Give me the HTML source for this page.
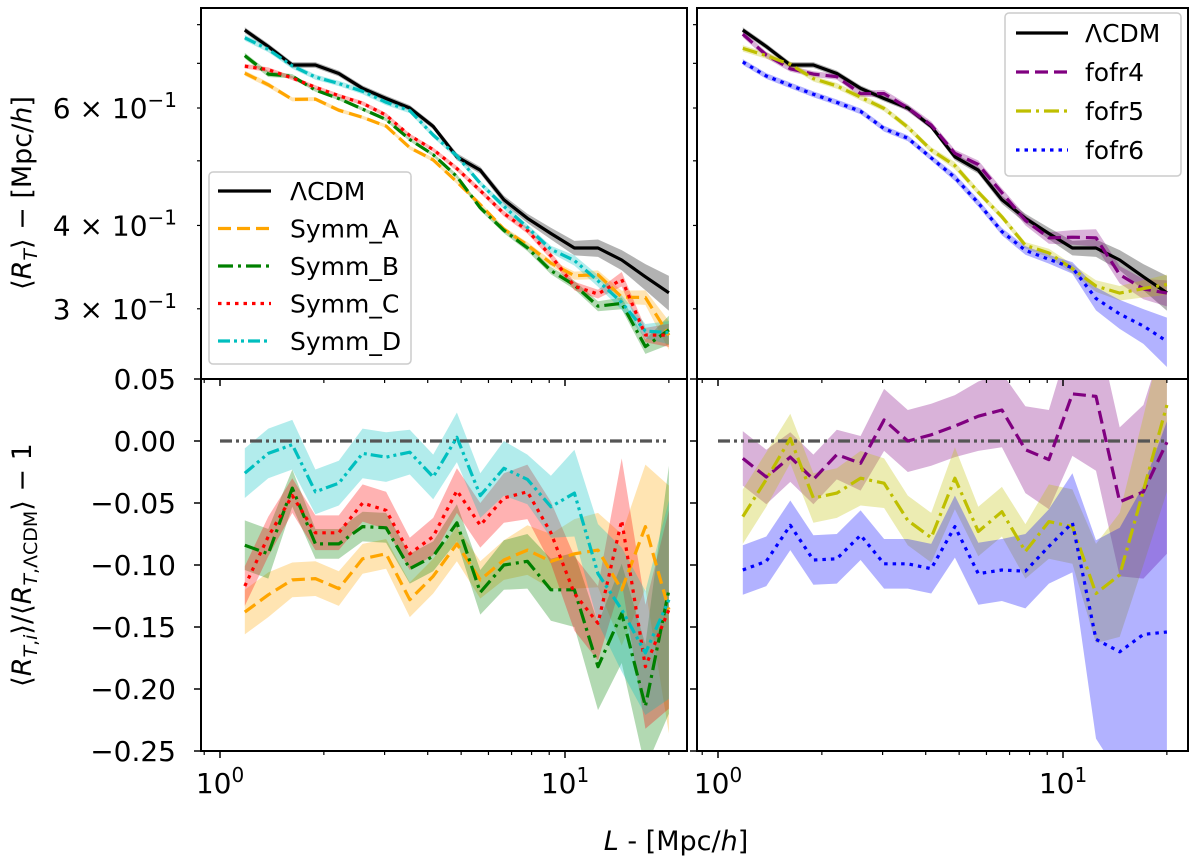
<!DOCTYPE html>
<html><head><meta charset="utf-8">
<style>
html,body{margin:0;padding:0;background:#fff;}
svg{display:block;font-family:"DejaVu Sans","Liberation Sans",sans-serif;}
</style></head>
<body>
<svg id="chart" width="1200" height="865" viewBox="0 0 1200 865" xmlns="http://www.w3.org/2000/svg"></svg>
<script>
// ---- data ----
const Lvals = [1.18,1.38,1.62,1.89,2.21,2.59,3.03,3.55,4.15,4.86,5.68,6.65,7.78,9.1,10.65,12.46,14.6,17.1,20.0];
const lcdm = [0.785,0.742,0.696,0.696,0.676,0.642,0.620,0.600,0.563,0.507,0.484,0.437,0.410,0.389,0.370,0.370,0.355,0.335,0.317];
const lcdmErr = [0.01,0.01,0.01,0.01,0.01,0.01,0.01,0.01,0.01,0.012,0.012,0.014,0.016,0.02,0.025,0.03,0.035,0.045,0.06];
const symmA = [-0.138,-0.124,-0.112,-0.111,-0.119,-0.095,-0.091,-0.128,-0.109,-0.083,-0.112,-0.096,-0.088,-0.097,-0.091,-0.088,-0.120,-0.069,-0.136];
const symmB = [-0.084,-0.091,-0.038,-0.083,-0.083,-0.069,-0.070,-0.103,-0.093,-0.066,-0.122,-0.100,-0.097,-0.120,-0.120,-0.182,-0.139,-0.214,-0.120];
const symmC = [-0.117,-0.077,-0.044,-0.074,-0.074,-0.050,-0.056,-0.091,-0.077,-0.040,-0.068,-0.046,-0.041,-0.074,-0.123,-0.147,-0.064,-0.182,-0.136];
const symmD = [-0.026,-0.010,-0.003,-0.041,-0.034,-0.010,-0.013,-0.009,-0.029,0.003,-0.044,-0.022,-0.031,-0.053,-0.042,-0.107,-0.136,-0.171,-0.128];
const errA = [0.018,0.018,0.014,0.014,0.014,0.012,0.012,0.014,0.014,0.014,0.015,0.016,0.02,0.022,0.028,0.03,0.045,0.05,0.1];
const errB = [0.02,0.02,0.015,0.012,0.012,0.012,0.012,0.012,0.012,0.015,0.018,0.02,0.022,0.025,0.03,0.035,0.04,0.05,0.1];
const errC = [0.016,0.016,0.014,0.014,0.014,0.015,0.015,0.013,0.015,0.018,0.018,0.02,0.022,0.025,0.03,0.03,0.05,0.05,0.08];
const errD = [0.02,0.02,0.02,0.018,0.018,0.02,0.02,0.018,0.018,0.02,0.018,0.022,0.02,0.025,0.035,0.04,0.05,0.05,0.08];
const fofr4 = [-0.014,-0.029,-0.013,-0.031,-0.011,-0.018,0.017,0.000,0.005,0.012,0.020,0.025,-0.007,-0.015,0.038,0.036,-0.049,-0.041,-0.001];
const fofr5 = [-0.061,-0.031,0.002,-0.046,-0.042,-0.030,-0.034,-0.064,-0.078,-0.030,-0.073,-0.057,-0.089,-0.065,-0.069,-0.123,-0.108,-0.040,0.029];
const fofr6 = [-0.104,-0.097,-0.068,-0.096,-0.095,-0.076,-0.099,-0.099,-0.103,-0.069,-0.107,-0.104,-0.105,-0.085,-0.066,-0.160,-0.170,-0.156,-0.154];
const err4 = [0.022,0.022,0.02,0.02,0.02,0.022,0.025,0.025,0.025,0.025,0.028,0.03,0.035,0.04,0.05,0.06,0.06,0.07,0.09];
const err5 = [0.022,0.022,0.02,0.02,0.02,0.022,0.02,0.02,0.02,0.025,0.02,0.02,0.022,0.03,0.03,0.04,0.05,0.06,0.07];
const err6 = [0.02,0.02,0.02,0.02,0.02,0.02,0.02,0.02,0.02,0.025,0.025,0.025,0.03,0.03,0.04,0.08,0.1,0.12,0.17];
const topTickVals = [0.3,0.4,0.6];
const topTickLabels = ["3 × 10","4 × 10","6 × 10"];
const botTickVals = [0.05,0.00,-0.05,-0.10,-0.15,-0.20,-0.25];
const botTickLabels = ["0.05","0.00","−0.05","−0.10","−0.15","−0.20","−0.25"];

// ---- layout ----
const NS="http://www.w3.org/2000/svg";
const svg=document.getElementById('chart');
const panels={
  tl:{x0:201,x1:687,y0:8,y1:379,dec0:220},
  tr:{x0:697,x1:1188,y0:8,y1:379,dec0:718},
  bl:{x0:201,x1:687,y0:379,y1:751,dec0:220},
  br:{x0:697,x1:1188,y0:379,y1:751,dec0:718}
};
const DEC=345;
function xs(p,v){return p.dec0+Math.log10(v)*DEC;}
function ysTop(v){return 108-(Math.log10(v)-Math.log10(0.6))*667;}
function ysBot(v){return 441-v*1240;}
function mk(tag,attrs,parent){const e=document.createElementNS(NS,tag);for(const k in attrs)e.setAttribute(k,attrs[k]);(parent||svg).appendChild(e);return e;}

function clip(id,p){const d=mk('clipPath',{id:id});mk('rect',{x:p.x0,y:p.y0,width:p.x1-p.x0,height:p.y1-p.y0},d);}
['tl','tr','bl','br'].forEach(k=>clip('c'+k,panels[k]));

function band(p,ys,lo,hi,color,name,g){
  let d='';
  for(let i=0;i<Lvals.length;i++)d+=(i?'L':'M')+xs(p,Lvals[i]).toFixed(1)+','+ys(hi[i]).toFixed(1);
  for(let i=Lvals.length-1;i>=0;i--)d+='L'+xs(p,Lvals[i]).toFixed(1)+','+ys(lo[i]).toFixed(1);
  const e=mk('path',{d:d+'Z',fill:color,'fill-opacity':0.3,stroke:'none'},g);
  
  
}
function line(p,ys,vals,color,dash,name,g){
  let d='';
  for(let i=0;i<Lvals.length;i++)d+=(i?'L':'M')+xs(p,Lvals[i]).toFixed(1)+','+ys(vals[i]).toFixed(1);
  const e=mk('path',{d:d,fill:'none',stroke:color,'stroke-width':3.2,'stroke-dasharray':dash||'none','stroke-linejoin':'round'},g);
  
  
}
const DASH={solid:'',dashed:'13,6',dashdot:'15,5,3,5',dotted:'3.5,5',dashdotdot:'12,4,3,4,3,4'};
const series={
  symmA:{v:symmA,e:errA,c:'#FFA500',d:DASH.dashed,n:'symm-a'},
  symmB:{v:symmB,e:errB,c:'#008000',d:DASH.dashdot,n:'symm-b'},
  symmC:{v:symmC,e:errC,c:'#FF0000',d:DASH.dotted,n:'symm-c'},
  symmD:{v:symmD,e:errD,c:'#00BFBF',d:DASH.dashdotdot,n:'symm-d'},
  fofr4:{v:fofr4,e:err4,c:'#800080',d:DASH.dashed,n:'fofr4'},
  fofr5:{v:fofr5,e:err5,c:'#BFBF00',d:DASH.dashdot,n:'fofr5'},
  fofr6:{v:fofr6,e:err6,c:'#0000FF',d:DASH.dotted,n:'fofr6'}
};
function drawTop(pk,list){
  const p=panels[pk];const g=mk('g',{'clip-path':'url(#c'+pk+')'});
  
  
  band(p,ysTop,lcdm.map((v,i)=>v*(1-lcdmErr[i])),lcdm.map((v,i)=>v*(1+lcdmErr[i])),'#000','lcdm',g);
  list.forEach(k=>{const s=series[k];
    const val=lcdm.map((v,i)=>v*(1+s.v[i]));
    band(p,ysTop,val.map((v,i)=>v*(1-s.e[i]*0.5)),val.map((v,i)=>v*(1+s.e[i]*0.5)),s.c,s.n,g);});
  line(p,ysTop,lcdm,'#000','','lcdm',g);
  list.forEach(k=>{const s=series[k];line(p,ysTop,lcdm.map((v,i)=>v*(1+s.v[i])),s.c,s.d,s.n,g);});
}
function drawBot(pk,list){
  const p=panels[pk];const g=mk('g',{'clip-path':'url(#c'+pk+')'});
  
  
  list.forEach(k=>{const s=series[k];band(p,ysBot,s.v.map((v,i)=>v-s.e[i]),s.v.map((v,i)=>v+s.e[i]),s.c,s.n,g);});
  const z=mk('line',{x1:xs(p,1.0),x2:xs(p,20),y1:ysBot(0),y2:ysBot(0),stroke:'#555','stroke-width':3.2,'stroke-dasharray':DASH.dashdotdot},g);
  
  
  list.forEach(k=>{const s=series[k];line(p,ysBot,s.v,s.c,s.d,s.n,g);});
}
drawTop('tl',['symmA','symmB','symmC','symmD']);
drawTop('tr',['fofr4','fofr5','fofr6']);
drawBot('bl',['symmA','symmB','symmC','symmD']);
drawBot('br',['fofr4','fofr5','fofr6']);

// frames & ticks
const minorX=[2,3,4,5,6,7,8,9,20];
for(const k in panels){const p=panels[k];
  const f=mk('rect',{x:p.x0,y:p.y0,width:p.x1-p.x0,height:p.y1-p.y0,fill:'none',stroke:'#000','stroke-width':2});
  
  
  [1,10].forEach(v=>mk('line',{x1:xs(p,v),x2:xs(p,v),y1:p.y1,y2:p.y1+7,stroke:'#000','stroke-width':1.5}));
  minorX.forEach(v=>mk('line',{x1:xs(p,v),x2:xs(p,v),y1:p.y1,y2:p.y1+4,stroke:'#000','stroke-width':1.2}));
  mk('line',{x1:xs(p,0.9),x2:xs(p,0.9),y1:p.y1,y2:p.y1+4,stroke:'#000','stroke-width':1.2});
  if(k[0]==='t'){[0.3,0.4,0.5,0.6,0.7,0.8].forEach(v=>mk('line',{x1:p.x0-4,x2:p.x0,y1:ysTop(v),y2:ysTop(v),stroke:'#000','stroke-width':1.2}));}
  else{botTickVals.forEach(v=>mk('line',{x1:p.x0-7,x2:p.x0,y1:ysBot(v),y2:ysBot(v),stroke:'#000','stroke-width':1.5}));}
}
// tick labels
function txt(x,y,s,attrs,name){const e=mk('text',Object.assign({x:x,y:y,'font-size':28,fill:'#000'},attrs||{}));e.textContent=s;
  
  return e;}
topTickVals.forEach((v,i)=>{const t=txt(177,ysTop(v)+10,topTickLabels[i],{'text-anchor':'end'},'y-tick-label-top');
  const sup=mk('tspan',{dy:-11,'font-size':20},t);sup.textContent='−1';});
botTickVals.forEach((v,i)=>txt(176,ysBot(v)+10,botTickLabels[i],{'text-anchor':'end'},'y-tick-label-bottom'));
['bl','br'].forEach(k=>{const p=panels[k];
  [1,10].forEach((v,j)=>{const t=txt(xs(p,v),793,'10',{'text-anchor':'middle'},'x-tick-label');
    const s=mk('tspan',{dy:-11,'font-size':20},t);s.textContent=j?'1':'0';});});
// axis labels
const xl=txt(676,850,'',{'text-anchor':'middle','font-size':27},'x-axis-title');
xl.innerHTML='<tspan font-style="italic">L</tspan> - [Mpc/<tspan font-style="italic">h</tspan>]';
const yl1=txt(0,0,'',{'text-anchor':'middle','font-size':27,transform:'translate(31,193) rotate(-90)'},'y-axis-title-top');
yl1.innerHTML='⟨<tspan font-style="italic">R</tspan><tspan font-style="italic" font-size="19" dy="6">T</tspan><tspan dy="-6">⟩ − [Mpc/</tspan><tspan font-style="italic">h</tspan>]';
const yl2=txt(0,0,'',{'text-anchor':'middle','font-size':27,transform:'translate(31,565) rotate(-90)'},'y-axis-title-bottom');
yl2.innerHTML='⟨<tspan font-style="italic">R</tspan><tspan font-size="19" dy="6"><tspan font-style="italic">T</tspan>,<tspan font-style="italic">i</tspan></tspan><tspan dy="-6">⟩/⟨</tspan><tspan font-style="italic">R</tspan><tspan font-size="19" dy="6"><tspan font-style="italic">T</tspan>,ΛCDM</tspan><tspan dy="-6">⟩ − 1</tspan>';

// legends
function legend(x,y,w,h,items,name,lx0,lx1,tx,y0,dy){
  const g=mk('g',{});
  
  
  mk('rect',{x:x,y:y,width:w,height:h,rx:4,fill:'#fff','fill-opacity':0.85,stroke:'#ccc','stroke-width':1.5},g);
  items.forEach((it,i)=>{const yy=y0+i*dy;
    const l=mk('line',{x1:lx0,x2:lx1,y1:yy,y2:yy,stroke:it.c,'stroke-width':3.2,'stroke-dasharray':it.d||'none'},g);
    
    
    const t=mk('text',{x:tx,y:yy+9,'font-size':25,fill:'#000'},g);t.textContent=it.t;
    
    
  });
}
legend(209,172,202,192,[{t:'ΛCDM',c:'#000'},{t:'Symm_A',c:'#FFA500',d:DASH.dashed},{t:'Symm_B',c:'#008000',d:DASH.dashdot},{t:'Symm_C',c:'#FF0000',d:DASH.dotted},{t:'Symm_D',c:'#00BFBF',d:DASH.dashdotdot}],'legend-symmetron',218,271,290,191,37.5);
legend(1005,13,176,163,[{t:'ΛCDM',c:'#000'},{t:'fofr4',c:'#800080',d:DASH.dashed},{t:'fofr5',c:'#BFBF00',d:DASH.dashdot},{t:'fofr6',c:'#0000FF',d:DASH.dotted}],'legend-fofr',1016,1068,1085,33,39);
</script>
</body></html>
